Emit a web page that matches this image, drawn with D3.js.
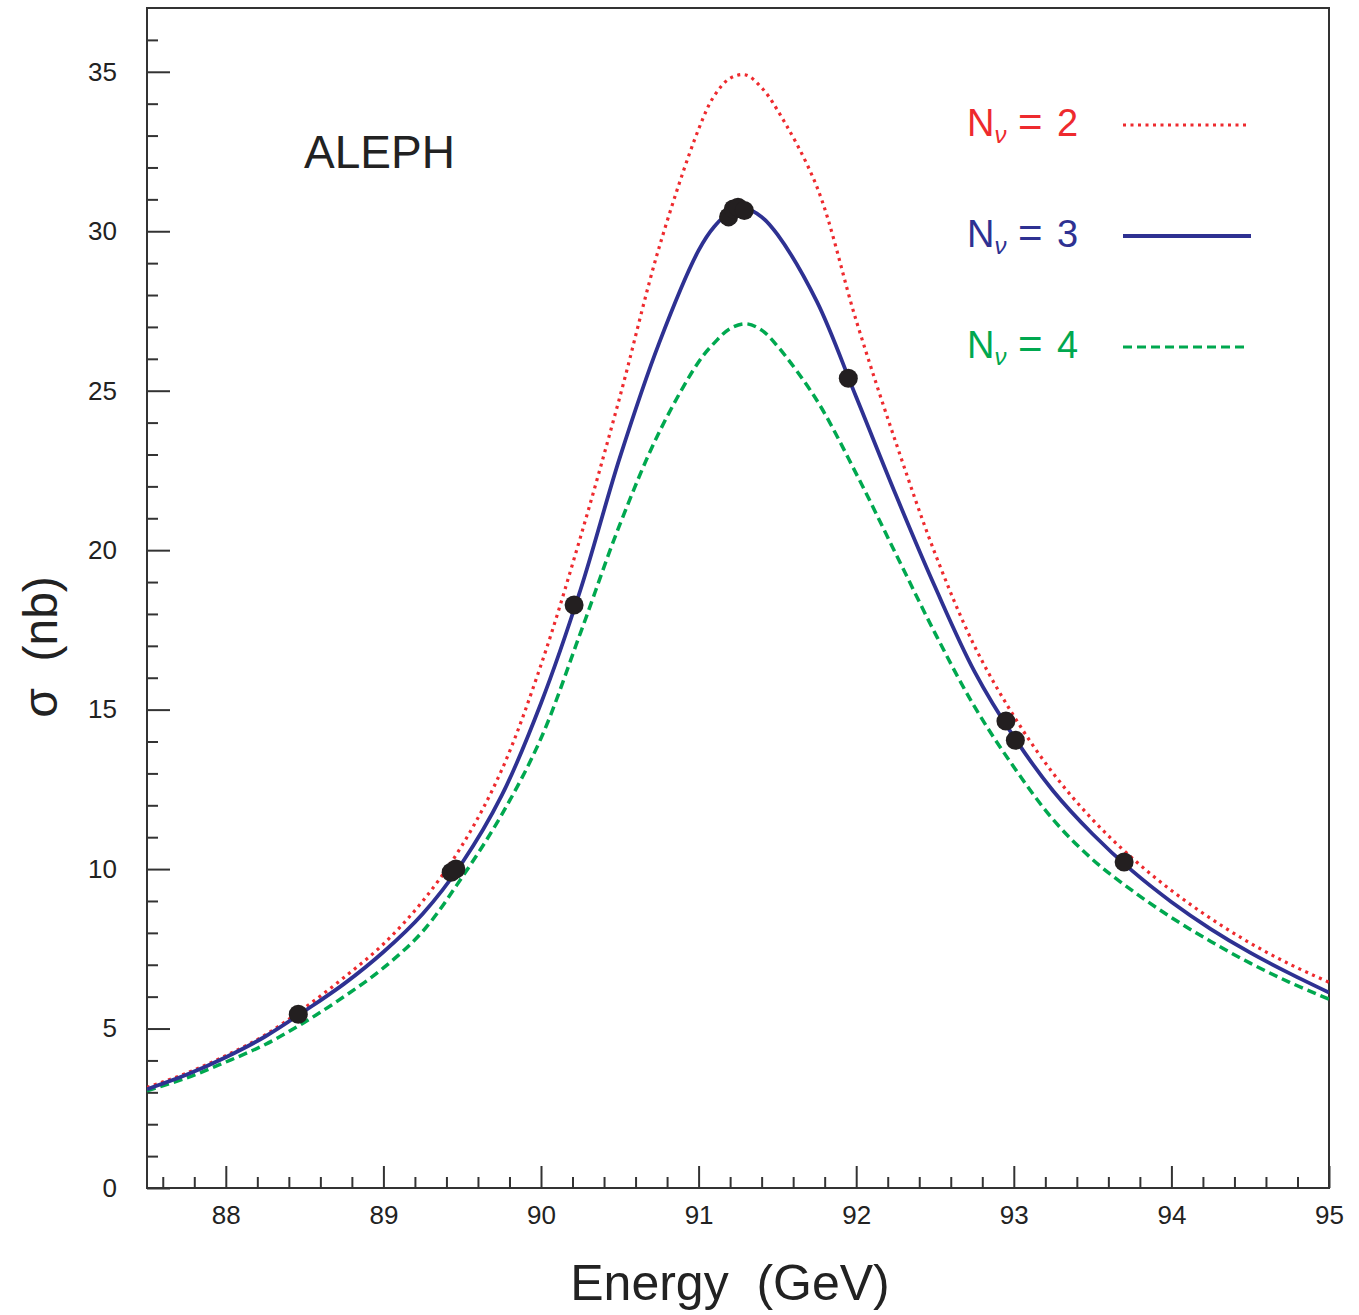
<!DOCTYPE html>
<html>
<head>
<meta charset="utf-8">
<script src="https://cdn.jsdelivr.net/npm/d3@7"></script>
<style>
  html, body { margin: 0; padding: 0; background: #fff; }
  svg { display: block; }
  text { font-family: "Liberation Sans", Arial, Helvetica, sans-serif; }
</style>
</head>
<body>
<svg id="chart" width="1359" height="1315"></svg>
<script>
// ---- data ----
const energy = [87.5, 87.75, 88.0, 88.25, 88.5, 88.75, 89.0, 89.25, 89.5, 89.75, 90.0, 90.25, 90.5, 90.75,
                91.0, 91.1, 91.2, 91.3, 91.4, 91.5, 91.75, 92.0, 92.25, 92.5, 92.75, 93.0, 93.25, 93.5,
                93.75, 94.0, 94.25, 94.5, 94.75, 95.0];
const sigmaN2 = [3.15, 3.6, 4.15, 4.8, 5.65, 6.6, 7.65, 9.0, 10.75, 13.1, 16.4, 20.4, 24.8, 29.5,
                 33.2, 34.25, 34.8, 34.9, 34.5, 33.8, 31.4, 27.2, 23.4, 19.9, 17.0, 14.8, 13.0, 11.55,
                 10.35, 9.33, 8.45, 7.68, 7.02, 6.45];
const sigmaN3 = [3.1, 3.55, 4.1, 4.75, 5.55, 6.4, 7.4, 8.6, 10.2, 12.3, 15.2, 18.75, 22.9, 26.5,
                 29.4, 30.15, 30.6, 30.7, 30.45, 29.9, 27.8, 24.8, 21.75, 18.85, 16.2, 14.15, 12.45, 11.1,
                 9.95, 8.97, 8.12, 7.38, 6.73, 6.13];
const sigmaN4 = [3.05, 3.45, 3.95, 4.5, 5.2, 6.0, 6.9, 8.05, 9.75, 11.7, 14.1, 17.4, 20.8, 23.7,
                 25.9, 26.5, 26.95, 27.1, 26.9, 26.4, 24.7, 22.4, 19.9, 17.4, 15.1, 13.2, 11.55, 10.3,
                 9.33, 8.48, 7.73, 7.05, 6.45, 5.92];
const dataE = [88.46, 89.43, 89.46, 90.21, 91.19, 91.22, 91.25, 91.29, 91.95, 92.95, 93.01, 93.70];
const dataS = [5.45, 9.9, 10.0, 18.28, 30.45, 30.7, 30.75, 30.65, 25.39, 14.64, 14.04, 10.22];
const xMajorTicks = [88, 89, 90, 91, 92, 93, 94, 95];
const yMajorTicks = [0, 5, 10, 15, 20, 25, 30, 35];
const legendLabels = ["2", "3", "4"];

// ---- layout ----
const svg = d3.select("#chart");
const L = 147, R = 1329, T = 8, B = 1188;
const x = d3.scaleLinear().domain([87.5, 95]).range([L, R]);
const y = d3.scaleLinear().domain([0, 37]).range([B, T]);

const axisColor = "#333";
const red = "#ee2a2e", blue = "#2e3192", green = "#00a84f";

svg.append("defs").append("clipPath").attr("id", "plotclip")
  .append("rect").attr("x", L).attr("y", T).attr("width", R - L).attr("height", B - T);

// minor ticks
const xMinor = d3.range(87.6, 95.0001, 0.2).filter(v => Math.abs(v - Math.round(v)) > 0.01);
const yMinor = d3.range(1, 37, 1).filter(v => v % 5 !== 0);

function styleAxis(g) {
  g.select(".domain").remove();
  g.selectAll("line").attr("stroke", axisColor).attr("stroke-width", 2);
  g.selectAll("text").attr("fill", "#222").style("font-size", "26px")
    .style("font-family", '"Liberation Sans", Arial, sans-serif');
}

svg.append("g").attr("transform", `translate(0,${B})`)
  .call(d3.axisBottom(x).tickValues(xMinor).tickSize(-11).tickFormat(""))
  .call(styleAxis);
svg.append("g").attr("transform", `translate(0,${B})`)
  .call(d3.axisBottom(x).tickValues(xMajorTicks).tickSize(-22).tickPadding(18).tickFormat(d3.format("d")))
  .call(styleAxis);
svg.append("g").attr("transform", `translate(${L},0)`)
  .call(d3.axisLeft(y).tickValues(yMinor).tickSize(-11).tickFormat(""))
  .call(styleAxis);
svg.append("g").attr("transform", `translate(${L},0)`)
  .call(d3.axisLeft(y).tickValues(yMajorTicks).tickSize(-23).tickPadding(30).tickFormat(d3.format("d")))
  .call(styleAxis);

// frame
svg.append("rect").attr("x", L).attr("y", T).attr("width", R - L).attr("height", B - T)
  .attr("fill", "none").attr("stroke", axisColor).attr("stroke-width", 2);

// curves
const line = d3.line().x(d => x(d[0])).y(d => y(d[1])).curve(d3.curveCatmullRom.alpha(0.5));
const curves = [
  { s: sigmaN4, color: green, dash: "9,5", w: 3.5 },
  { s: sigmaN2, color: red, dash: "3,4.5", w: 3.2 },
  { s: sigmaN3, color: blue, dash: null, w: 3.8 }
];
const cg = svg.append("g").attr("clip-path", "url(#plotclip)");
curves.forEach(c => {
  cg.append("path")
    .datum(energy.map((e, i) => [e, c.s[i]]))
    .attr("d", line)
    .attr("fill", "none")
    .attr("stroke", c.color)
    .attr("stroke-width", c.w)
    .attr("stroke-dasharray", c.dash);
});

// data points
svg.append("g").selectAll("circle")
  .data(dataE.map((e, i) => [e, dataS[i]]))
  .join("circle")
  .attr("cx", d => x(d[0])).attr("cy", d => y(d[1])).attr("r", 9.5)
  .attr("fill", "#231f20");

// ALEPH label
svg.append("text").attr("x", 304).attr("y", 168).text("ALEPH")
  .style("font-size", "46px").attr("fill", "#222");

// legend
const legendColors = [red, blue, green];
const legendDash = ["3,4.5", null, "9,5"];
const legendY = [136, 247, 358];
legendLabels.forEach((lab, i) => {
  const t = svg.append("text").attr("x", 967).attr("y", legendY[i])
    .attr("fill", legendColors[i]).style("font-size", "38px");
  t.append("tspan").text("N");
  t.append("tspan").text("ν").attr("dy", 7).style("font-size", "24px").style("font-style", "italic");
  t.append("tspan").text("=").attr("dy", -7).attr("x", 1018).style("font-size", "42px");
  t.append("tspan").text(lab).attr("x", 1057);
  svg.append("line")
    .attr("x1", 1123).attr("x2", i === 1 ? 1251 : 1248)
    .attr("y1", legendY[i] - 11).attr("y2", legendY[i] - 11)
    .attr("stroke", legendColors[i]).attr("stroke-width", i === 1 ? 3.8 : 3.2)
    .attr("stroke-dasharray", legendDash[i]);
});

// axis titles
svg.append("text").attr("x", 730).attr("y", 1300).attr("text-anchor", "middle")
  .attr("xml:space", "preserve").text("Energy  (GeV)")
  .style("font-size", "50px").attr("fill", "#222");
svg.append("text")
  .attr("transform", "translate(57,647) rotate(-90)")
  .attr("text-anchor", "middle").attr("xml:space", "preserve").text("σ  (nb)")
  .style("font-size", "48px").attr("fill", "#222");
</script>
</body>
</html>
